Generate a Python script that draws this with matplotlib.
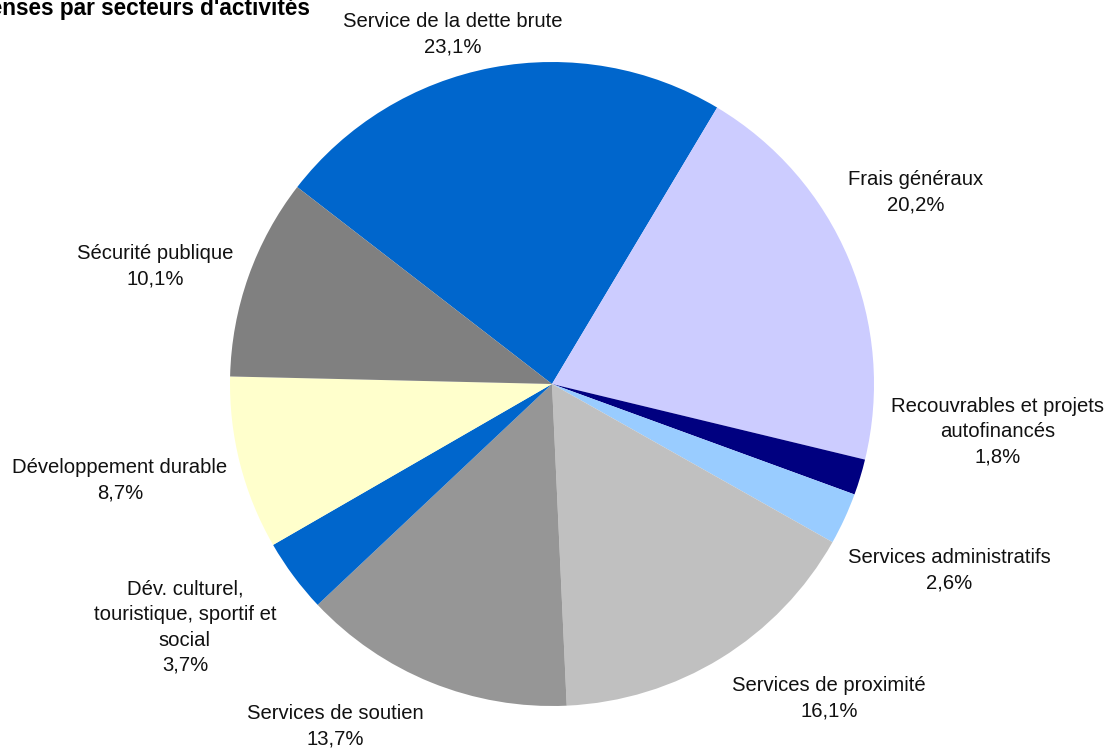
import matplotlib
matplotlib.use("Agg")
import matplotlib.pyplot as plt

plt.rcParams['font.family'] = ['Liberation Sans', 'DejaVu Sans']

title = "Dépenses par secteurs d'activités"
categories = ["Service de la dette brute", "Frais généraux",
              "Recouvrables et projets\nautofinancés", "Services administratifs",
              "Services de proximité", "Services de soutien",
              "Dév. culturel,\ntouristique, sportif et\nsocial",
              "Développement durable", "Sécurité publique"]
values = [23.1, 20.2, 1.8, 2.6, 16.1, 13.7, 3.7, 8.7, 10.1]
colors = ["#0066CC", "#CCCCFF", "#000080", "#99CCFF", "#C0C0C0",
          "#969696", "#0066CC", "#FFFFCC", "#808080"]
# label centre positions (in pie-radius units)
label_pos = [(-0.307, 1.086), (1.130, 0.596), (1.385, -0.149), (1.233, -0.578),
             (0.860, -0.975), (-0.674, -1.062), (-1.140, -0.756),
             (-1.342, -0.298), (-1.233, 0.366)]

W, H = 1111, 750
cx, cy, R = 552, 384, 322
fig = plt.figure(figsize=(W / 100, H / 100), dpi=100)
ax = fig.add_axes([0, 0, 1, 1])

ax.pie(values, colors=colors, startangle=142.3, counterclock=False,
       radius=1, center=(0, 0), frame=True,
       wedgeprops=dict(linewidth=0))
ax.set_xlim(-cx / R, (W - cx) / R)
ax.set_ylim((cy - H) / R, cy / R)
ax.set_aspect('auto')
ax.axis('off')

for cat, v, (x, y) in zip(categories, values, label_pos):
    txt = cat + "\n" + f"{v:.1f}".replace('.', ',') + "%"
    ax.text(x, y, txt, ha='center', va='center', fontsize=14.6,
            linespacing=1.42, color='#111111')

fig.text(310 / W, 1 - 15 / H, title, ha='right', va='baseline',
         fontsize=16.3, fontweight='bold')

fig.savefig("out.png", dpi=100)
